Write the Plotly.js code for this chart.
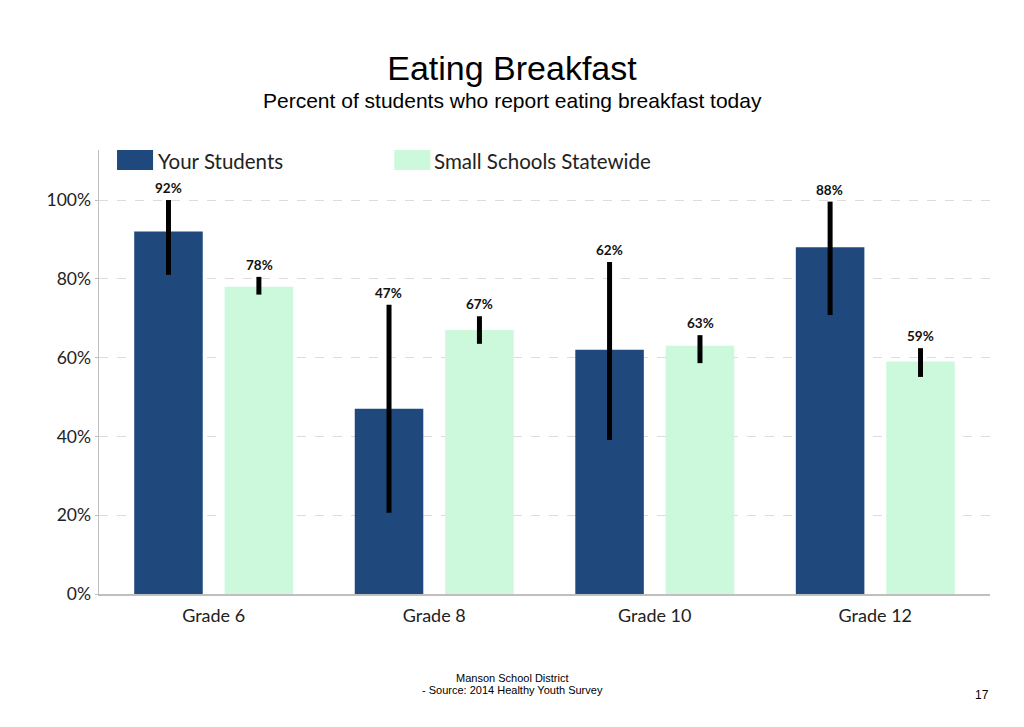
<!DOCTYPE html>
<html>
<head>
<meta charset="utf-8">
<script src="https://cdn.plot.ly/plotly-3.0.1.min.js"></script>
<style>html,body{margin:0;padding:0;background:#fff;}#chart{width:1024px;height:727px;}</style>
</head>
<body>
<div id="chart"></div>
<script>
const grades = ["Grade 6", "Grade 8", "Grade 10", "Grade 12"];
const seriesNames = ["Your Students", "Small Schools Statewide"];
const yourStudents = [92, 47, 62, 88];
const yourUpper = [100, 73.4, 84.3, 99.6];
const yourLower = [81, 20.6, 39.1, 70.8];
const statewide = [78, 67, 63, 59];
const stateUpper = [80.5, 70.5, 65.7, 62.4];
const stateLower = [76, 63.5, 58.6, 55.1];
const yTicks = [0, 20, 40, 60, 80, 100];
const yTickLabels = ["0%", "20%", "40%", "60%", "80%", "100%"];

const colors = ["#1F497D", "#CCF8DC"];
const font = "Lato, 'Open Sans', sans-serif";

function errObj(vals, up, lo) {
  return {
    type: "data", symmetric: false,
    array: vals.map((v, i) => up[i] - v),
    arrayminus: vals.map((v, i) => v - lo[i]),
    color: "#000", thickness: 5, width: 0
  };
}

const traces = [
  {type: "bar", name: seriesNames[0], x: grades, y: yourStudents,
   marker: {color: colors[0]}, error_y: errObj(yourStudents, yourUpper, yourLower), hoverinfo: "none"},
  {type: "bar", name: seriesNames[1], x: grades, y: statewide,
   marker: {color: colors[1]}, error_y: errObj(statewide, stateUpper, stateLower), hoverinfo: "none"}
];

const annotations = [];
const offset = 45.5;
grades.forEach((g, i) => {
  annotations.push({x: g, y: yourUpper[i], xref: "x", yref: "y", xshift: -offset, yshift: 2,
    yanchor: "bottom", showarrow: false, text: "<b>" + yourStudents[i] + "%</b>",
    font: {family: font, size: 13.5, color: "#111"}});
  annotations.push({x: g, y: stateUpper[i], xref: "x", yref: "y", xshift: offset, yshift: 2,
    yanchor: "bottom", showarrow: false, text: "<b>" + statewide[i] + "%</b>",
    font: {family: font, size: 13.5, color: "#111"}});
});
// custom legend texts
annotations.push({xref: "paper", yref: "paper", x: 57/890, y: 1 - 11/444, xanchor: "left", yanchor: "middle",
  showarrow: false, text: seriesNames[0], font: {family: font, size: 20.5, color: "#222"}});
annotations.push({xref: "paper", yref: "paper", x: 333/890, y: 1 - 11/444, xanchor: "left", yanchor: "middle",
  showarrow: false, text: seriesNames[1], font: {family: font, size: 20.5, color: "#222"}});
// subtitle
annotations.push({xref: "paper", yref: "paper", x: (512-99)/890, y: 1 + (150-101)/444, xanchor: "center", yanchor: "middle",
  showarrow: false, text: "Percent of students who report eating breakfast today",
  font: {family: "'Liberation Sans', Arial, sans-serif", size: 21, color: "#000"}});
// footer
annotations.push({xref: "paper", yref: "paper", x: (512-99)/890, y: -(678-594)/444, xanchor: "center", yanchor: "middle",
  showarrow: false, text: "Manson School District",
  font: {family: "'Liberation Sans', Arial, sans-serif", size: 11, color: "#000"}});
annotations.push({xref: "paper", yref: "paper", x: (512-99)/890, y: -(690-594)/444, xanchor: "center", yanchor: "middle",
  showarrow: false, text: "- Source: 2014 Healthy Youth Survey",
  font: {family: "'Liberation Sans', Arial, sans-serif", size: 11, color: "#000"}});
annotations.push({xref: "paper", yref: "paper", x: (981-99)/890, y: -(695-594)/444, xanchor: "center", yanchor: "middle",
  showarrow: false, text: "17",
  font: {family: "'Liberation Sans', Arial, sans-serif", size: 12, color: "#000"}});

const shapes = [
  {type: "rect", xref: "paper", yref: "paper", x0: 18/890, x1: 54/890, y0: 1 - 20/444, y1: 1, fillcolor: colors[0], line: {width: 0}},
  {type: "rect", xref: "paper", yref: "paper", x0: 295/890, x1: 331/890, y0: 1 - 20/444, y1: 1, fillcolor: colors[1], line: {width: 0}}
];

const layout = {
  width: 1024, height: 727,
  margin: {l: 99, r: 34, t: 150, b: 133},
  paper_bgcolor: "#fff", plot_bgcolor: "#fff",
  showlegend: false,
  barmode: "group", bargap: 0.18, bargroupgap: 0.242,
  title: {text: "Eating Breakfast", x: 0.5, xanchor: "center", y: 1 - 68/727, yanchor: "middle",
    font: {family: "'Liberation Sans', Arial, sans-serif", size: 34, color: "#000"}},
  xaxis: {type: "category", range: [-0.52, 3.52], showline: true, linecolor: "#bfbfbf", linewidth: 2,
    ticks: "", showgrid: false, tickfont: {family: font, size: 18, color: "#222"}, ticklabelstandoff: 4},
  yaxis: {range: [0, 112.7], tickvals: yTicks, ticktext: yTickLabels, showline: true, linecolor: "#bfbfbf", linewidth: 1.5,
    ticks: "outside", ticklen: 3, tickcolor: "#bfbfbf", showgrid: true, gridcolor: "#dcdcdc", griddash: "dash", gridwidth: 1,
    zeroline: false, tickfont: {family: font, size: 17.5, color: "#222"}},
  annotations: annotations,
  shapes: shapes
};

Plotly.newPlot("chart", traces, layout, {displayModeBar: false, staticPlot: true});
</script>
</body>
</html>
